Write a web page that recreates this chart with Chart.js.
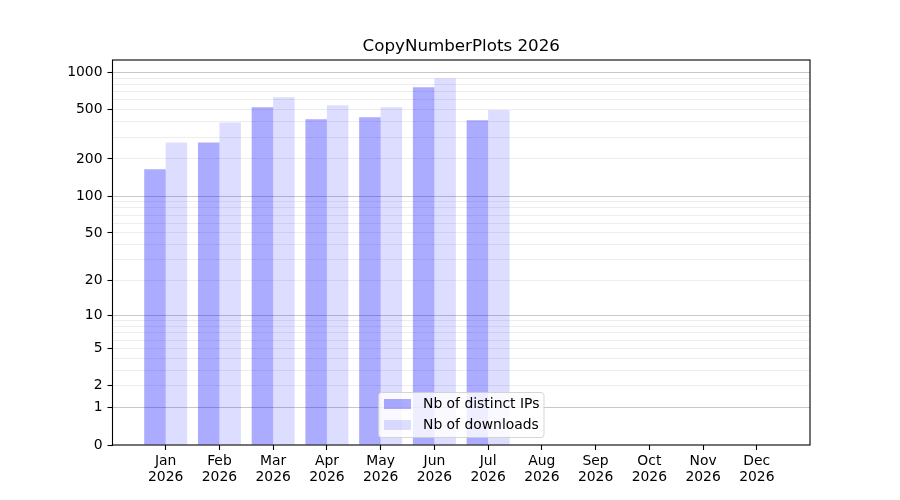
<!DOCTYPE html>
<html>
<head>
<meta charset="utf-8">
<title>CopyNumberPlots 2026</title>
<script src="https://cdn.jsdelivr.net/npm/chart.js@4.4.1/dist/chart.umd.min.js"></script>
<style>
  body { margin: 0; background: #fff; }
</style>
</head>
<body>
<canvas id="grafica" width="900" height="500"></canvas>
<script>
// datos
const months = ['Jan', 'Feb', 'Mar', 'Apr', 'May', 'Jun', 'Jul', 'Aug', 'Sep', 'Oct', 'Nov', 'Dec'];
const year = '2026';
const distinctIps = [165, 272, 522, 418, 434, 757, 410, 0, 0, 0, 0, 0];
const downloads = [272, 395, 629, 542, 523, 895, 497, 0, 0, 0, 0, 0];
const yLabels = [0, 1, 2, 5, 10, 20, 50, 100, 200, 500, 1000];
const yMajor = [1, 10, 100, 1000];

// eje y = log10(1 + x)
function fwd(v) { return Math.log10(1 + v); }
function inv(u) { return Math.round(Math.pow(10, u) - 1); }

// ticks menores 2..9 por decada
const yMinor = [];
for (let k = 0; k <= 2; k++) {
  for (let d = 2; d <= 9; d++) yMinor.push(d * Math.pow(10, k));
}
const yTicks = Array.from(new Set(yLabels.concat(yMinor))).sort((a, b) => a - b);

const font = 'DejaVu Sans';

const titlePlugin = {
  id: 'titulo',
  afterDraw(chart) {
    const c = chart.ctx, a = chart.chartArea;
    c.save();
    // marco de los ejes
    c.strokeStyle = '#000';
    c.lineWidth = 1.1;
    c.strokeRect(a.left, a.top, a.right - a.left, a.bottom - a.top);
    // titulo
    c.fillStyle = '#000';
    c.font = '16.7px "' + font + '"';
    c.textAlign = 'center';
    c.textBaseline = 'alphabetic';
    c.fillText('CopyNumberPlots ' + year, (a.left + a.right) / 2, 50.5);
    // leyenda
    const x0 = 378.5, y0 = 392.5, w = 165.5, h = 45;
    c.beginPath();
    c.roundRect(x0, y0, w, h, 3);
    c.fillStyle = 'rgba(255,255,255,0.8)';
    c.fill();
    c.strokeStyle = 'rgba(204,204,204,0.8)';
    c.lineWidth = 1;
    c.stroke();
    c.font = '13.9px "' + font + '"';
    c.textAlign = 'left';
    c.textBaseline = 'middle';
    chart.data.datasets.forEach(function(ds, i) {
      const yy = y0 + 11.5 + i * 21;
      c.fillStyle = ds.backgroundColor;
      c.fillRect(384, yy - 5, 27, 10);
      c.fillStyle = '#000';
      c.fillText(ds.label, 423, yy + 0.5);
    });
    c.restore();
  }
};

const ctx = document.getElementById('grafica').getContext('2d');

const data = {
  datasets: [{
    label: 'Nb of distinct IPs',
    data: distinctIps.map((v, i) => ({ x: i, y: fwd(v) })),
    backgroundColor: 'rgba(0, 0, 255, 0.33)',
    borderWidth: 0
  }, {
    label: 'Nb of downloads',
    data: downloads.map((v, i) => ({ x: i, y: fwd(v) })),
    backgroundColor: 'rgba(0, 0, 255, 0.135)',
    borderWidth: 0
  }]
};

const config = {
  type: 'bar',
  data: data,
  plugins: [titlePlugin],
  options: {
    responsive: false,
    animation: false,
    devicePixelRatio: 1,
    categoryPercentage: 0.8,
    barPercentage: 1.0,
    layout: { padding: { left: 0, right: 90, top: 60, bottom: 0 } },
    plugins: {
      legend: { display: false },
      title: { display: false },
      tooltip: { enabled: false }
    },
    scales: {
      x: {
        type: 'linear',
        min: -0.99,
        max: 11.99,
        offset: false,
        afterFit: function(scale) { scale.height = 55; },
        afterBuildTicks: function(scale) {
          scale.ticks = months.map((m, i) => ({ value: i }));
        },
        border: { display: false },
        grid: { offset: false, drawOnChartArea: false, drawTicks: true, tickLength: 5, tickColor: '#000', tickWidth: 1.1 },
        ticks: {
          autoSkip: false,
          maxRotation: 0,
          padding: 3,
          color: '#000',
          font: { family: font, size: 13.9, lineHeight: 1.15 },
          callback: function(v) { return [months[v], year]; }
        }
      },
      y: {
        type: 'linear',
        min: 0,
        max: 1.05 * fwd(Math.max.apply(null, downloads)),
        afterFit: function(scale) { scale.width = 112.5; },
        afterBuildTicks: function(scale) {
          scale.ticks = yTicks.map(t => ({ value: fwd(t) }));
        },
        border: { display: false },
        grid: {
          drawTicks: true,
          tickLength: 5,
          color: function(c) {
            const t = inv(c.tick.value);
            if (t === 0) return 'rgba(0,0,0,0)';
            return yMajor.indexOf(t) >= 0 ? 'rgba(0,0,0,0.22)' : 'rgba(0,0,0,0.07)';
          },
          tickColor: function(c) {
            return yLabels.indexOf(inv(c.tick.value)) >= 0 ? '#000' : 'rgba(0,0,0,0)';
          },
          tickWidth: 1.1
        },
        ticks: {
          autoSkip: false,
          padding: 5,
          color: '#000',
          font: { family: font, size: 13.9 },
          callback: function(v) {
            const t = inv(v);
            return yLabels.indexOf(t) >= 0 ? String(t) : '';
          }
        }
      }
    }
  }
};

const myChart = new Chart(ctx, config);
</script>
</body>
</html>
